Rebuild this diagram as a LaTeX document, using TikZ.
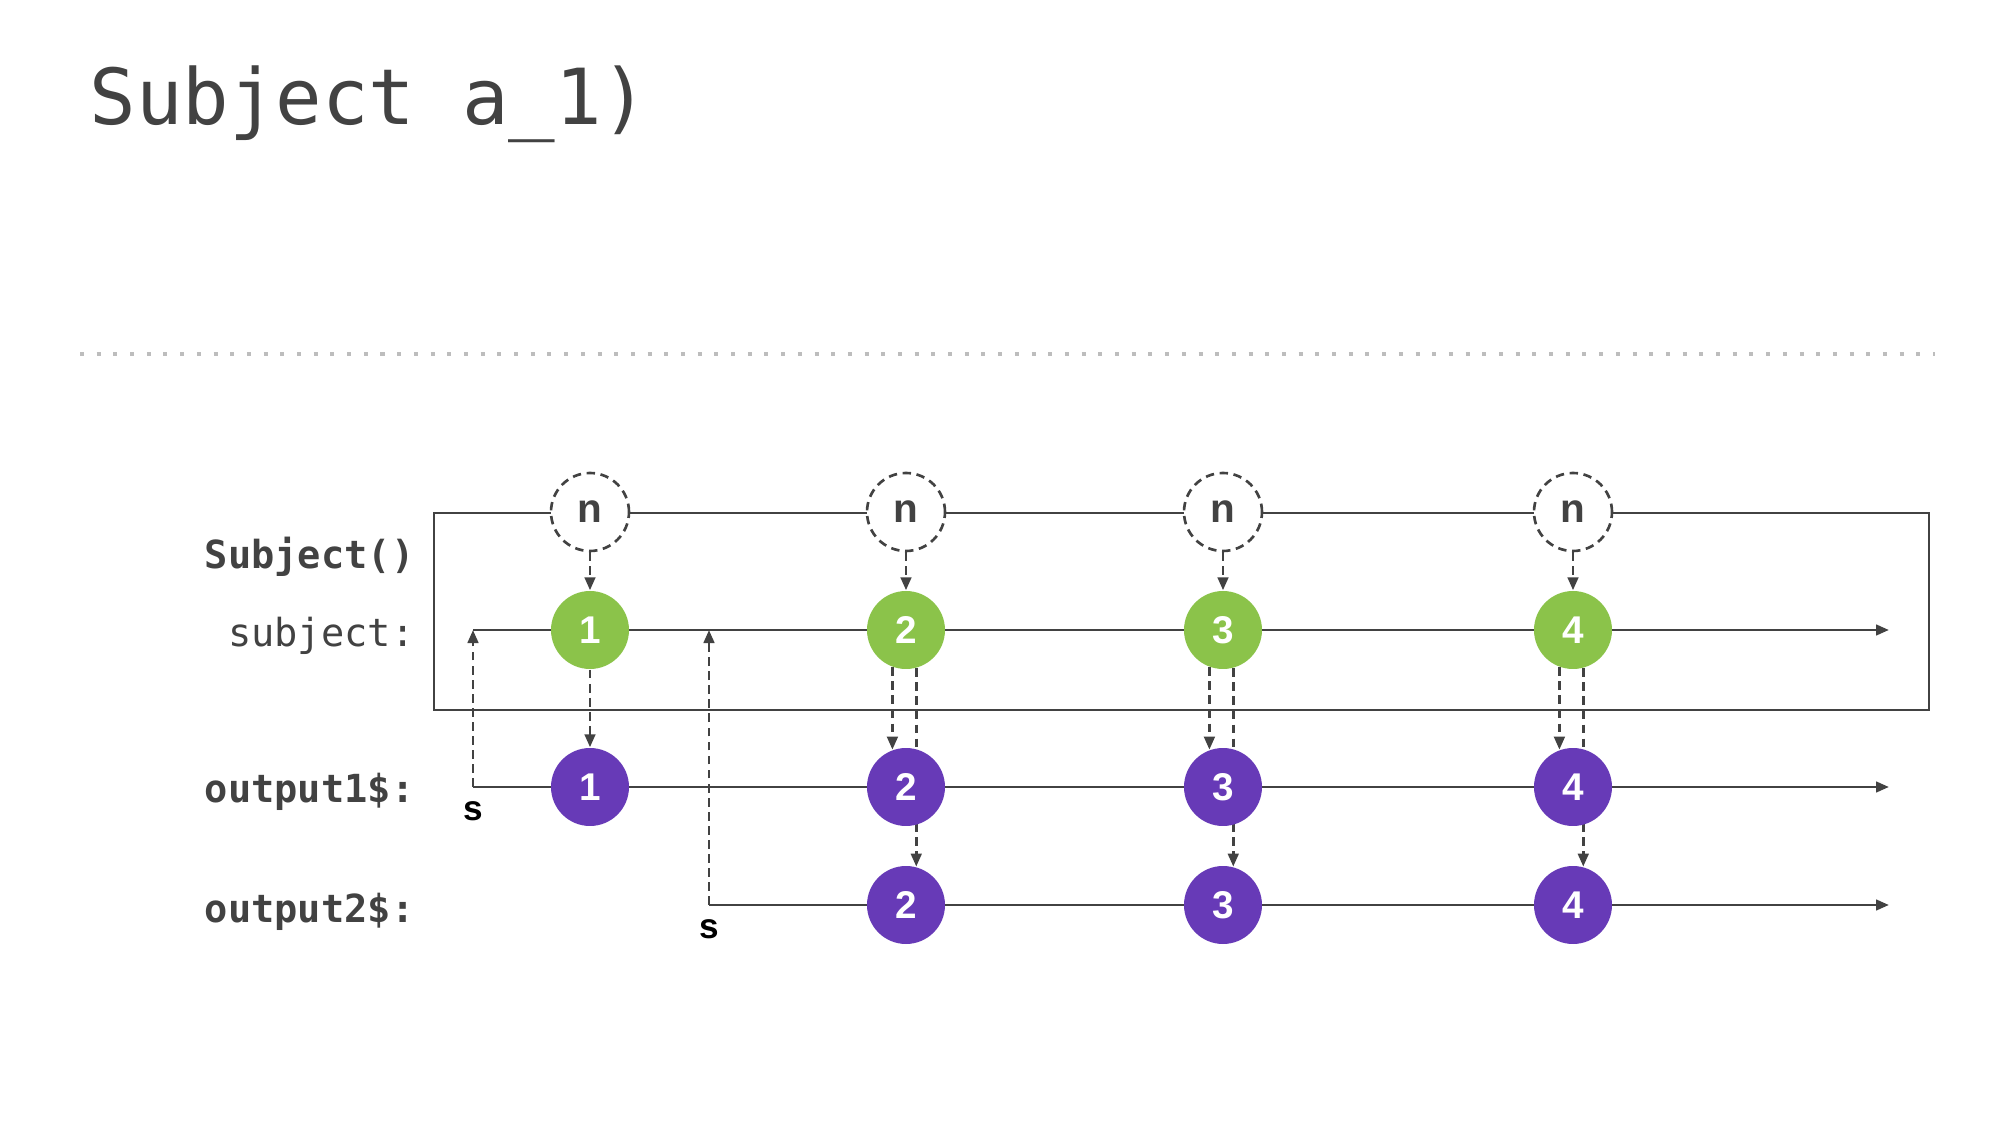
\documentclass[tikz,border=0pt]{standalone}
\usepackage{fontspec}
\setmonofont{DejaVu Sans Mono}
\newfontfamily\marblefont{Liberation Sans}
\usetikzlibrary{arrows.meta,backgrounds}

\definecolor{ink}{HTML}{424242}
\definecolor{rxgreen}{HTML}{8BC34A}
\definecolor{rxpurple}{HTML}{673AB7}
\definecolor{dotgray}{HTML}{BDBDBD}

\begin{document}
\begin{tikzpicture}[x=0.1mm, y=-0.1mm,
    >={Triangle[length=3.7pt,width=3pt]},
    track/.style={draw=ink, line width=0.8pt},
    flow/.style={draw=ink, line width=0.8pt, dash pattern=on 2.5pt off 1.5pt},
    marble/.style={circle, minimum size=7.8mm, inner sep=0pt, text=white,
        font=\marblefont\bfseries\fontsize{11}{13}\selectfont},
    ghost/.style={circle, minimum size=7.8mm, inner sep=0pt, fill=white,
        draw=ink, line width=0.75pt, dash pattern=on 2.4pt off 1.6pt,
        text=ink, font=\marblefont\bfseries\fontsize{11.5}{13}\selectfont},
    lane/.style={anchor=base east, inner sep=0pt, text=ink,
        font=\ttfamily\fontsize{11}{13}\selectfont},
    start/.style={inner sep=0pt, font=\marblefont\bfseries\fontsize{10}{12}\selectfont}]

    \useasboundingbox (0,0) rectangle (2000,1125);

    % Title
    \node[anchor=base west, inner sep=0pt, text=ink,
        font=\ttfamily\fontsize{22}{26}\selectfont] (title) at (89,125) {Subject a\_1)};

    % Separator
    \draw[dotgray, line width=1.14pt, dash pattern=on 1.14pt off 3.61pt] (80,354) -- (1935,354);

    % Subject() box
    \draw[track] (434,513) rectangle (1929,710);

    % Lane labels
    \node[lane, font=\ttfamily\bfseries\fontsize{11}{13}\selectfont] (lblSubject) at (415,568) {Subject()};
    \node[lane] (lblsubject) at (415,647) {subject:};
    \node[lane, font=\ttfamily\bfseries\fontsize{11}{13}\selectfont] (lblout1) at (415,803) {output1\$:};
    \node[lane, font=\ttfamily\bfseries\fontsize{11}{13}\selectfont] (lblout2) at (415,922) {output2\$:};

    % Lane ends
    \coordinate (sub0) at (473,630);
    \coordinate (sub2) at (709,630);
    \coordinate (subend) at (1889,630);
    \coordinate (out1s) at (473,787);
    \coordinate (out1e) at (1889,787);
    \coordinate (out2s) at (709,905);
    \coordinate (out2e) at (1889,905);

    % next() calls
    \node[ghost] (n1) at (590,512) {n};
    \node[ghost] (n2) at (906,512) {n};
    \node[ghost] (n3) at (1223,512) {n};
    \node[ghost] (n4) at (1573,512) {n};

    % Subject values
    \node[marble, fill=rxgreen] (g1) at (590,630) {1};
    \node[marble, fill=rxgreen] (g2) at (906,630) {2};
    \node[marble, fill=rxgreen] (g3) at (1223,630) {3};
    \node[marble, fill=rxgreen] (g4) at (1573,630) {4};

    % output1$ values
    \node[marble, fill=rxpurple] (a1) at (590,787) {1};
    \node[marble, fill=rxpurple] (a2) at (906,787) {2};
    \node[marble, fill=rxpurple] (a3) at (1223,787) {3};
    \node[marble, fill=rxpurple] (a4) at (1573,787) {4};

    % output2$ values
    \node[marble, fill=rxpurple] (b2) at (906,905) {2};
    \node[marble, fill=rxpurple] (b3) at (1223,905) {3};
    \node[marble, fill=rxpurple] (b4) at (1573,905) {4};

    % Subscriptions
    \node[start] (s1) at (473,811) {s};
    \node[start] (s2) at (709,929) {s};
    \draw[flow, ->] (out1s) -- (sub0);
    \draw[flow, ->] (out2s) -- (sub2);

    % next() to subject
    \draw[flow, ->] (n1) -- (g1);
    \draw[flow, ->] (n2) -- (g2);
    \draw[flow, ->] (n3) -- (g3);
    \draw[flow, ->] (n4) -- (g4);

    % subject to output1$
    \draw[flow, ->] (g1) -- (a1);
    \draw[flow, ->] (g2.250) -- (a2.110);
    \draw[flow, ->] (g3.250) -- (a3.110);
    \draw[flow, ->] (g4.250) -- (a4.110);

    \begin{pgfonlayer}{background}
        % Time lines
        \draw[track, ->] (sub0) -- (subend);
        \draw[track, ->] (out1s) -- (out1e);
        \draw[track, ->] (out2s) -- (out2e);
        % subject to output2$
        \draw[flow, ->] (g2.285) -- (b2.75);
        \draw[flow, ->] (g3.285) -- (b3.75);
        \draw[flow, ->] (g4.285) -- (b4.75);
    \end{pgfonlayer}

\end{tikzpicture}
\end{document}
